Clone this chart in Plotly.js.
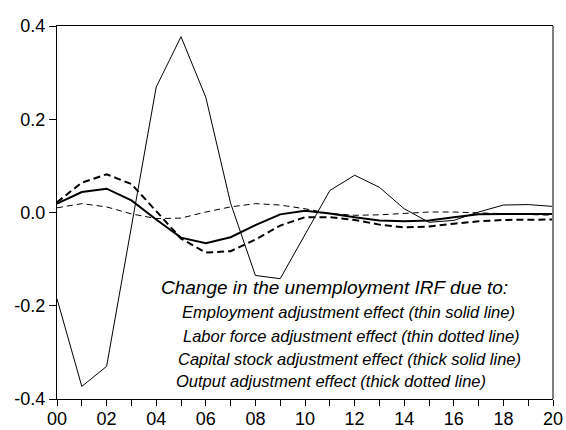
<!DOCTYPE html>
<html>
<head>
<meta charset="utf-8">
<script src="https://cdn.plot.ly/plotly-3.0.1.min.js"></script>
<style>
  html, body { margin: 0; padding: 0; background: #fff; }
  #irfDiv { width: 566px; height: 430px; }
</style>
</head>
<body>
<div id="irfDiv"></div>
<script>
  // horizon (years after shock) and tick labels
  var years = [0, 1, 2, 3, 4, 5, 6, 7, 8, 9, 10, 11, 12, 13, 14, 15, 16, 17, 18, 19, 20];
  var tickYears = [0, 2, 4, 6, 8, 10, 12, 14, 16, 18, 20];
  var tickLabels = ['00', '02', '04', '06', '08', '10', '12', '14', '16', '18', '20'];

  // change in the unemployment IRF
  var employmentEffect = [-0.185, -0.373, -0.330, -0.030, 0.269, 0.377, 0.247, 0.020, -0.135, -0.142,
                          -0.048, 0.047, 0.080, 0.054, 0.008, -0.021, -0.017, 0.001, 0.016, 0.017, 0.013];
  var laborForceEffect = [0.010, 0.019, 0.012, -0.003, -0.013, -0.012, 0.001, 0.012, 0.019, 0.016,
                          0.008, -0.002, -0.006, -0.005, -0.002, 0.001, 0.001, -0.001, -0.003, -0.005, -0.006];
  var capitalEffect = [0.019, 0.044, 0.051, 0.026, -0.015, -0.054, -0.066, -0.053, -0.027, -0.004,
                       0.004, -0.002, -0.010, -0.017, -0.019, -0.017, -0.010, -0.004, -0.003, -0.003, -0.003];
  var outputEffect = [0.022, 0.064, 0.082, 0.061, 0.003, -0.056, -0.086, -0.083, -0.058, -0.028,
                      -0.010, -0.010, -0.016, -0.026, -0.032, -0.030, -0.024, -0.019, -0.016, -0.015, -0.015];

  var noteTitle = 'Change in the unemployment IRF due to:';
  var noteLines = [
    'Employment adjustment effect (thin solid line)',
    'Labor force adjustment effect (thin dotted line)',
    'Capital stock adjustment effect (thick solid line)',
    'Output adjustment effect (thick dotted line)'
  ];

  var trace1 = {
    x: years, y: employmentEffect,
    mode: 'lines', type: 'scatter', name: 'Employment',
    line: {color: 'black', width: 1}
  };
  var trace2 = {
    x: years, y: laborForceEffect,
    mode: 'lines', type: 'scatter', name: 'Labor force',
    line: {color: 'black', width: 1, dash: '6px,4px'}
  };
  var trace3 = {
    x: years, y: capitalEffect,
    mode: 'lines', type: 'scatter', name: 'Capital stock',
    line: {color: 'black', width: 2}
  };
  var trace4 = {
    x: years, y: outputEffect,
    mode: 'lines', type: 'scatter', name: 'Output',
    line: {color: 'black', width: 2, dash: '7px,4px'}
  };

  var irfData = [trace1, trace2, trace3, trace4];

  var noteX = [0.2057, 0.247, 0.249, 0.239, 0.235];
  var noteY = [0.300, 0.234, 0.168, 0.107, 0.047];
  var annotations = [{
    xref: 'paper', yref: 'paper', x: noteX[0], y: noteY[0],
    xanchor: 'left', yanchor: 'middle', showarrow: false,
    text: '<i>' + noteTitle + '</i>',
    font: {family: 'Liberation Sans, Arial, sans-serif', size: 19, color: 'black'}
  }];
  for (var i = 0; i < noteLines.length; i++) {
    annotations.push({
      xref: 'paper', yref: 'paper', x: noteX[i + 1], y: noteY[i + 1],
      xanchor: 'left', yanchor: 'middle', showarrow: false,
      text: '<i>' + noteLines[i] + '</i>',
      font: {family: 'Liberation Sans, Arial, sans-serif', size: 16.5, color: 'black'}
    });
  }

  var irfLayout = {
    width: 566,
    height: 430,
    margin: {l: 57, r: 13, t: 26, b: 31},
    paper_bgcolor: 'white',
    plot_bgcolor: 'white',
    showlegend: false,
    font: {family: 'Liberation Sans, Arial, sans-serif', color: 'black'},
    xaxis: {
      range: [0, 20],
      tickmode: 'array',
      tickvals: tickYears,
      ticktext: tickLabels,
      ticks: 'outside',
      ticklen: 6,
      tickcolor: 'black',
      tickfont: {size: 18},
      ticklabelstandoff: -3,
      minor: {dtick: 1, tick0: 0, ticks: 'outside', ticklen: 6, tickcolor: 'black', showgrid: false},
      showgrid: false,
      zeroline: false,
      showline: true,
      mirror: true,
      linecolor: 'black',
      linewidth: 1
    },
    yaxis: {
      range: [-0.4, 0.4],
      tickmode: 'array',
      tickvals: [-0.4, -0.2, 0, 0.2, 0.4],
      ticktext: ['-0.4', '-0.2', '0.0', '0.2', '0.4'],
      ticks: 'outside',
      ticklen: 7,
      tickcolor: 'black',
      tickfont: {size: 18},
      showgrid: false,
      zeroline: false,
      showline: true,
      linecolor: 'black',
      linewidth: 1
    },
    shapes: [{
      type: 'line', xref: 'paper', yref: 'paper',
      x0: 1, x1: 1, y0: 0, y1: 1,
      line: {color: '#808080', width: 2}
    }],
    annotations: annotations
  };

  Plotly.newPlot('irfDiv', irfData, irfLayout, {displayModeBar: false, staticPlot: true});
</script>
</body>
</html>
